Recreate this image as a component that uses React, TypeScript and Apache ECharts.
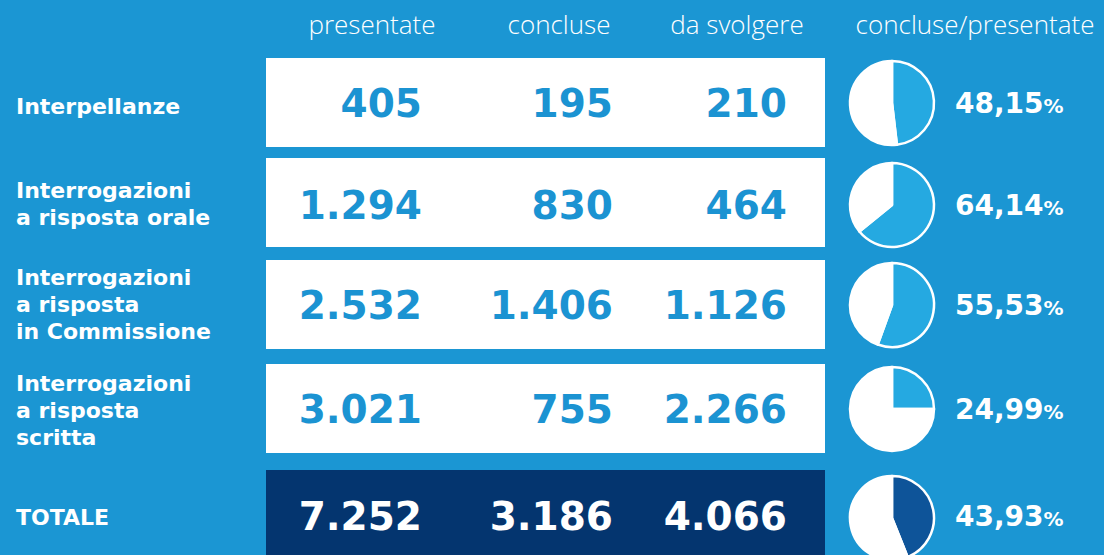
import React, { useEffect, useRef } from "react";
import * as echarts from "echarts";

const categories = [
  "Interpellanze",
  "Interrogazioni\na risposta orale",
  "Interrogazioni\na risposta\nin Commissione",
  "Interrogazioni\na risposta\nscritta",
  "TOTALE",
];
const columns = ["presentate", "concluse", "da svolgere", "concluse/presentate"];
const presentate = [405, 1294, 2532, 3021, 7252];
const concluse = [195, 830, 1406, 755, 3186];
const daSvolgere = [210, 464, 1126, 2266, 4066];

const W = 1104;
const H = 555;
const BG = "#1B96D3";
const BLUE_TXT = "#1B93D2";
const NAVY = "#04356F";
const SLICE = "#25A9E1";
const SLICE_TOTAL = "#0E5499";

const rowTops = [58, 158, 260, 364, 470];
const rowH = 89;
const rowCenters = [103, 205, 305, 409, 516];
const labelCenters = [106, 204, 304, 410, 517];
const lineGap = 27;
const numRightX = [422, 613, 787];
const headerX = [372, 559, 737, 975];
const pieX = 892;
const pieR = 42;

function fmtInt(v: number): string {
  const s = String(Math.round(v));
  return s.replace(/\B(?=(\d{3})+(?!\d))/g, ".");
}
function fmtPct(v: number): string {
  return v.toFixed(2).replace(".", ",");
}

export default function App() {
  const ref = useRef<HTMLDivElement>(null);
  useEffect(() => {
    if (!ref.current) return;
    const chart = echarts.init(ref.current, undefined, { renderer: "svg" });
    const graphics: any[] = [];
    columns.forEach((c, i) => {
      graphics.push({
        type: "text",
        x: headerX[i],
        y: 24,
        style: {
          text: c,
          fill: "#ffffff",
          font: "300 26px 'Open Sans'",
          align: "center",
          verticalAlign: "middle",
        },
      });
    });
    const n = categories.length;
    for (let r = 0; r < n; r++) {
      const isTot = r === n - 1;
      graphics.push({
        type: "rect",
        shape: { x: 266, y: rowTops[r], width: 559, height: isTot ? H - rowTops[r] + 2 : rowH },
        style: { fill: isTot ? NAVY : "#ffffff" },
        z: 1,
      });
      const lines = categories[r].split("\n");
      const y0 = labelCenters[r] - ((lines.length - 1) * lineGap) / 2;
      lines.forEach((ln, li) => {
        graphics.push({
          type: "text",
          x: 16,
          y: y0 + li * lineGap,
          z: 2,
          style: {
            text: ln,
            fill: "#ffffff",
            font: "bold 22px 'DejaVu Sans'",
            align: "left",
            verticalAlign: "middle",
          },
        });
      });
      const vals = [presentate[r], concluse[r], daSvolgere[r]];
      vals.forEach((v, k) => {
        graphics.push({
          type: "text",
          x: numRightX[k],
          y: rowCenters[r],
          z: 3,
          style: {
            text: fmtInt(v),
            fill: isTot ? "#ffffff" : BLUE_TXT,
            font: "bold 39px 'DejaVu Sans'",
            align: "right",
            verticalAlign: "middle",
          },
        });
      });
      const pct = (concluse[r] / presentate[r]) * 100;
      graphics.push({
        type: "text",
        x: 955,
        y: rowCenters[r],
        z: 3,
        style: {
          text: "{a|" + fmtPct(pct) + "}{b|%}",
          fill: "#ffffff",
          align: "left",
          verticalAlign: "middle",
          rich: {
            a: { font: "bold 28px 'DejaVu Sans'", fill: "#ffffff" },
            b: { font: "bold 20px 'DejaVu Sans'", fill: "#ffffff", padding: [6, 0, 0, 0] },
          },
        },
      });
    }
    const series: any[] = presentate.map((p, r) => {
      const isTot = r === n - 1;
      return {
        type: "pie",
        center: [pieX, rowCenters[r] + (isTot ? 2 : 0)],
        radius: [0, pieR],
        startAngle: 90,
        clockwise: true,
        silent: true,
        label: { show: false },
        labelLine: { show: false },
        z: 5,
        itemStyle: { borderColor: "#ffffff", borderWidth: 2.5 },
        data: [
          { value: concluse[r], itemStyle: { color: isTot ? SLICE_TOTAL : SLICE } },
          { value: p - concluse[r], itemStyle: { color: "#ffffff" } },
        ],
      };
    });
    chart.setOption({
      animation: false,
      backgroundColor: BG,
      graphic: { elements: graphics },
      series,
    });
    return () => chart.dispose();
  }, []);
  return (
    <div
      ref={ref}
      style={{ position: "fixed", left: 0, top: 0, width: W, height: H }}
    />
  );
}
